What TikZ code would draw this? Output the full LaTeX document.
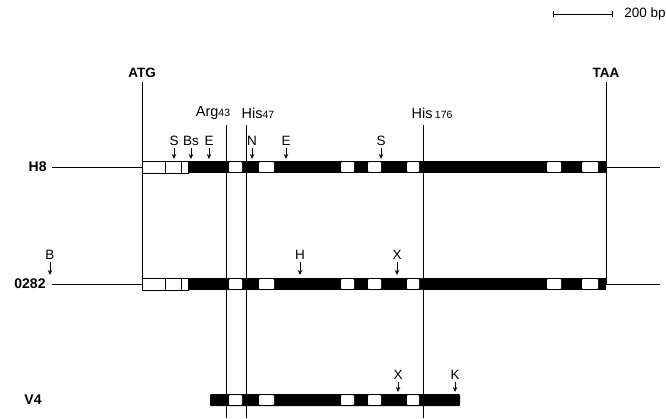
\documentclass[tikz,border=0pt]{standalone}
\usepackage{fontspec}
\setmainfont{Liberation Sans}
\usetikzlibrary{arrows.meta}
\tikzset{
  rowname/.style={font=\fontsize{14}{14}\selectfont\bfseries, anchor=east, inner sep=0pt},
  codon/.style={font=\fontsize{13.5}{13.5}\selectfont\bfseries, inner sep=0pt},
  residue/.style={font=\fontsize{14.5}{14.5}\selectfont, inner sep=0pt},
  site/.style={font=\fontsize{13.5}{13.5}\selectfont, inner sep=0pt},
  cut/.style={-{Stealth[length=5pt,width=4.5pt]}, line width=0.9pt},
  gapbox/.style={fill=white, rounded corners=0.8pt},
}
\newcommand{\resnum}[1]{{\fontsize{10.5}{10.5}\selectfont #1}}
\begin{document}
\begin{tikzpicture}[x=1pt, y=-1pt, line width=0.9pt]
        \useasboundingbox (0,0) rectangle (666,418);
        % scale bar
        \draw[|-|, line width=0.7pt] (553,14) -- (613,14);
        \node[site, anchor=west] (scale) at (624,14) {200 bp};

        % codon and residue lines
        \node[codon] (atg) at (142,73) {ATG};
        \node[codon] (taa) at (606,73) {TAA};
        \coordinate (atgend) at (142,284);
        \coordinate (taaend) at (606,284);
        \draw ([yshift=-4pt]atg.south) -- (atgend);
        \draw ([yshift=-4pt]taa.south) -- (taaend);
        \node[residue] (arg) at (213,113) {Arg\resnum{43}};
        \node[residue] (his47) at (258,113) {His\resnum{47}};
        \node[residue] (his176) at (432,113) {His\,\resnum{176}};
        \foreach \x/\nm in {226/argl, 246/hisl, 423/hismidl} {
            \coordinate (\nm top) at (\x,125);
            \coordinate (\nm bot) at (\x,418);
            \draw (\nm top) -- (\nm bot);
        }

        % H8 and 0282 bars
        \foreach \yy in {167, 284} {
            \fill (188,\yy-6) rectangle (606,\yy+6);
            \foreach \a/\b in {229/242, 259/274, 341/354, 368/381, 407/419, 547/561, 582/598}
                \fill[gapbox] (\a,\yy-4.8) rectangle (\b,\yy+4.8);
            \draw[fill=white] (142,\yy-6) rectangle (188,\yy+6);
            \draw[line width=0.7pt] (165,\yy-6) -- (165,\yy+6);
            \draw[line width=0.7pt] (181,\yy-6) -- (181,\yy+6);
        }
        % V4 bar
        \fill[rounded corners=1pt] (210,394) rectangle (460,406);
        \foreach \a/\b in {229/242, 259/274, 341/354, 368/381, 407/419}
            \fill[gapbox] (\a,395.2) rectangle (\b,404.8);

        % row labels and flanking lines
        \node[rowname] (h8) at (47,167) {H8};
        \node[rowname] (o282) at (46,284) {0282};
        \node[rowname] (v4) at (42,400) {V4};
        \coordinate (h8in) at (142,167);
        \coordinate (h8out) at (606,167);
        \coordinate (h8end) at (660,167);
        \coordinate (o282in) at (142,284);
        \coordinate (o282out) at (606,284);
        \coordinate (o282end) at (660,284);
        \draw ([xshift=5pt]h8.east) -- (h8in);
        \draw (h8out) -- (h8end);
        \draw ([xshift=6pt]o282.east) -- (o282in);
        \draw (o282out) -- (o282end);

        % restriction sites
        \foreach \x/\t [count=\i] in {174/S, 191/Bs, 209/E, 252/N, 286/E, 381/S} {
            \node[site] (hsite\i) at (\x,141) {\t};
            \draw[cut] ([yshift=-2pt]hsite\i.south) -- (\x,159);
        }
        \foreach \x/\t [count=\i] in {50/B, 300/H, 397/X} {
            \node[site] (osite\i) at (\x,255) {\t};
            \draw[cut] ([yshift=-2pt]osite\i.south) -- (\x,275);
        }
        \foreach \x/\t [count=\i] in {398/X, 455/K} {
            \node[site] (vsite\i) at (\x,375) {\t};
            \draw[cut] ([yshift=-2pt]vsite\i.south) -- (\x,392);
        }
\end{tikzpicture}
\end{document}
